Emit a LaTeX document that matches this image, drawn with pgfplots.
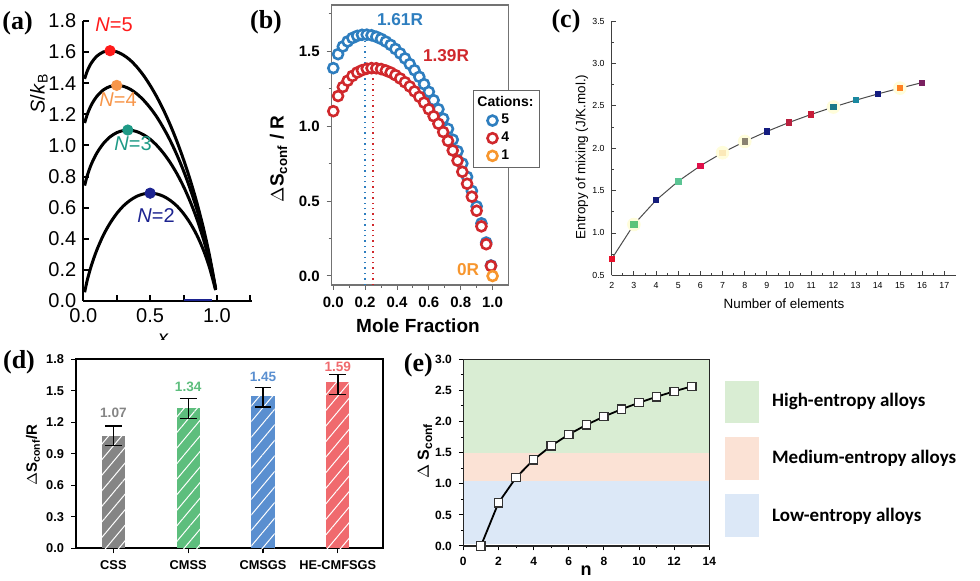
\documentclass[border=0pt]{standalone}
\usepackage{pgfplots}
\pgfplotsset{compat=1.18, /pgf/number format/assume math mode=true}
\usepackage{fontspec}
\setmainfont{Liberation Sans}
\newfontfamily\timesb{Liberation Serif}
\newfontfamily\calib{Carlito}
\usetikzlibrary{patterns.meta}
\newcommand{\fs}[1]{\fontsize{#1}{#1}\selectfont}
\definecolor{nAv}{HTML}{FF1A1A}
\definecolor{nAiv}{HTML}{F7964A}
\definecolor{nAiii}{HTML}{1E9A86}
\definecolor{nAii}{HTML}{1C2390}
\definecolor{bB}{HTML}{2E7EBF}
\definecolor{bR}{HTML}{D0282C}
\definecolor{bO}{HTML}{F7962E}
\definecolor{dG}{HTML}{858585}
\definecolor{dGr}{HTML}{5DBE7D}
\definecolor{dB}{HTML}{5A8FD0}
\definecolor{dR}{HTML}{F06A6E}
\definecolor{eG}{HTML}{D9EDD3}
\definecolor{eO}{HTML}{FBE2D5}
\definecolor{eB}{HTML}{DCE8F7}
\definecolor{cA}{HTML}{E8102A}
\definecolor{cB}{HTML}{5EC47A}
\definecolor{cC}{HTML}{141C7A}
\definecolor{cD}{HTML}{5CC494}
\definecolor{cE}{HTML}{E0104A}
\definecolor{cF}{HTML}{FBE9B8}
\definecolor{cG}{HTML}{8A8270}
\definecolor{cH}{HTML}{141C80}
\definecolor{cI}{HTML}{B8203E}
\definecolor{cJ}{HTML}{C81C38}
\definecolor{cK}{HTML}{1A7888}
\definecolor{cL}{HTML}{1A88A0}
\definecolor{cM}{HTML}{141C80}
\definecolor{cN}{HTML}{FF8020}
\definecolor{cO}{HTML}{7A2060}
\begin{document}
\begin{tikzpicture}
\useasboundingbox (0pt,0pt) rectangle (490pt,290.5pt);

% ---------------- (a) ----------------
\begin{axis}[at={(41.65pt,140pt)}, anchor=south west, scale only axis,
  width=84.2pt, height=140pt,
  xmin=0, xmax=1.26, ymin=0, ymax=1.8,
  axis x line*=bottom, axis y line*=left,
  axis line style={-, line width=1.1pt, black},
  xtick={0,0.25,0.5,0.75,1,1.25}, xticklabels={0.0,,0.5,,1.0,},
  ytick={0,0.2,0.4,0.6,0.8,1.0,1.2,1.4,1.6,1.8},
  yticklabel style={/pgf/number format/.cd, fixed, fixed zerofill, precision=1},
  tick align=inside, major tick length=3pt, tick style={line width=1pt, black},
  tick label style={font=\fs{10}}, clip=false]
\addplot[nAii, line width=0.8pt, forget plot] coordinates {(0.75,0.006) (0.96,0.006)};
\addplot[black, line width=1.5pt, smooth] coordinates {(0.01,0.056)(0.03,0.135)(0.06,0.227)(0.1,0.325)(0.15,0.423)(0.2,0.500)(0.25,0.562)(0.3,0.611)(0.35,0.647)(0.4,0.673)(0.45,0.688)(0.5,0.693)(0.55,0.688)(0.6,0.673)(0.65,0.647)(0.7,0.611)(0.75,0.562)(0.8,0.500)(0.85,0.423)(0.9,0.325)(0.94,0.227)(0.97,0.135)(0.99,0.070)};
\addplot[black, line width=1.5pt, smooth] coordinates {(0.01,0.742)(0.03,0.807)(0.06,0.879)(0.1,0.949)(0.15,1.012)(0.2,1.055)(0.25,1.082)(0.3,1.096)(0.35,1.098)(0.4,1.089)(0.45,1.069)(0.5,1.040)(0.55,1.000)(0.6,0.950)(0.65,0.890)(0.7,0.819)(0.75,0.736)(0.8,0.639)(0.85,0.527)(0.9,0.394)(0.94,0.269)(0.97,0.156)(0.99,0.075)};
\addplot[black, line width=1.5pt, smooth] coordinates {(0.01,1.144)(0.03,1.200)(0.06,1.260)(0.1,1.314)(0.15,1.357)(0.2,1.379)(0.25,1.386)(0.3,1.380)(0.35,1.362)(0.4,1.332)(0.45,1.292)(0.5,1.242)(0.55,1.183)(0.6,1.112)(0.65,1.032)(0.7,0.940)(0.75,0.837)(0.8,0.720)(0.85,0.588)(0.9,0.435)(0.94,0.293)(0.97,0.168)(0.99,0.078)};
\addplot[black, line width=1.5pt, smooth] coordinates {(0.01,1.428)(0.03,1.479)(0.06,1.530)(0.1,1.573)(0.15,1.601)(0.2,1.609)(0.25,1.602)(0.3,1.581)(0.35,1.549)(0.4,1.505)(0.45,1.451)(0.5,1.386)(0.55,1.312)(0.6,1.228)(0.65,1.133)(0.7,1.027)(0.75,0.909)(0.8,0.778)(0.85,0.631)(0.9,0.464)(0.94,0.310)(0.97,0.176)(0.99,0.080)};
\addplot[only marks, mark=*, mark size=2.6pt, color=nAv] coordinates {(0.2,1.609)};
\addplot[only marks, mark=*, mark size=2.6pt, color=nAiv] coordinates {(0.25,1.386)};
\addplot[only marks, mark=*, mark size=2.6pt, color=nAiii] coordinates {(0.333,1.099)};
\addplot[only marks, mark=*, mark size=2.6pt, color=nAii] coordinates {(0.5,0.693)};
\end{axis}
\node[inner sep=0, font=\fs{10}, text=nAv] at (57pt,278pt) {\textit{N}=5};
\node[inner sep=0, font=\fs{10}, text=nAiv] at (59pt,240.5pt) {\textit{N}=4};
\node[inner sep=0, font=\fs{10}, text=nAiii] at (66.5pt,218.5pt) {\textit{N}=3};
\node[inner sep=0, font=\fs{10}, text=nAii] at (78pt,182.5pt) {\textit{N}=2};
\node[inner sep=0, font=\fs{10}, rotate=90, anchor=base] at (22.3pt,243.75pt) {\textit{S}/\textit{k}\textsubscript{B}};
\begin{scope}
\clip (60pt,120.5pt) rectangle (110pt,135pt);
\node[inner sep=0, font=\itshape\fs{10}] at (81.5pt,121pt) {x};
\end{scope}

% ---------------- (b) ----------------
\begin{axis}[at={(165.85pt,148pt)}, anchor=south west, scale only axis,
  width=88.4pt, height=140pt,
  xmin=-0.01, xmax=1.10, ymin=-0.06, ymax=1.807,
  axis line style={black!55, line width=0.6pt},
  xtick={0,0.2,0.4,0.6,0.8,1.0}, minor xtick={0.1,0.3,0.5,0.7,0.9},
  ytick={0,0.5,1.0,1.5}, minor ytick={0.25,0.75,1.25,1.75},
  xtick pos=bottom, ytick pos=left, tick align=outside,
  major tick length=2.5pt, minor tick length=1.5pt, tick style={black!60, line width=0.5pt},
  tick label style={font=\bfseries\fs{7.5}, /pgf/number format/.cd, fixed, fixed zerofill, precision=1},
  legend style={at={(axis cs:0.879,1.24)}, anchor=north west, draw=black!60, line width=0.5pt,
    font=\bfseries\fs{7}, inner sep=0.8pt, row sep=-1.5pt, cells={anchor=west}},
  clip=false]
\addlegendimage{empty legend}
\addlegendentry{\hspace{-12pt}Cations:}
\addplot[bB, dotted, line width=0.7pt, forget plot] coordinates {(0.2,-0.06) (0.2,1.609)};
\addplot[bR, dotted, line width=0.7pt, forget plot] coordinates {(0.25,-0.06) (0.25,1.386)};
\addplot[only marks, mark=*, mark size=2.5pt, mark options={fill=white, draw=bB, line width=1.3pt}] coordinates {(0,1.386)(0.03,1.479)(0.06,1.530)(0.09,1.564)(0.12,1.587)(0.15,1.601)(0.18,1.608)(0.21,1.609)(0.24,1.605)(0.27,1.595)(0.30,1.581)(0.33,1.563)(0.36,1.541)(0.39,1.514)(0.42,1.484)(0.45,1.451)(0.48,1.413)(0.51,1.372)(0.54,1.328)(0.57,1.279)(0.60,1.228)(0.63,1.172)(0.66,1.112)(0.69,1.049)(0.72,0.981)(0.75,0.909)(0.78,0.832)(0.81,0.750)(0.84,0.661)(0.87,0.567)(0.90,0.464)(0.93,0.351)(0.96,0.223)(0.99,0.070)};
\addlegendentry{5}
\addplot[only marks, mark=*, mark size=2.5pt, mark options={fill=white, draw=bR, line width=1.3pt}] coordinates {(0,1.099)(0.03,1.200)(0.06,1.260)(0.09,1.302)(0.12,1.334)(0.15,1.357)(0.18,1.372)(0.21,1.382)(0.24,1.386)(0.27,1.385)(0.30,1.380)(0.33,1.370)(0.36,1.357)(0.39,1.339)(0.42,1.317)(0.45,1.292)(0.48,1.264)(0.51,1.231)(0.54,1.195)(0.57,1.156)(0.60,1.112)(0.63,1.065)(0.66,1.015)(0.69,0.960)(0.72,0.901)(0.75,0.837)(0.78,0.769)(0.81,0.695)(0.84,0.615)(0.87,0.529)(0.90,0.435)(0.93,0.331)(0.96,0.212)(0.99,0.067)};
\addlegendentry{4}
\addplot[only marks, mark=*, mark size=2.5pt, mark options={fill=white, draw=bO, line width=1.3pt}] coordinates {(1.0,0)};
\addlegendentry{1}
\end{axis}
\node[inner sep=0, font=\bfseries\fs{8.6}, text=bB] at (200pt,280.5pt) {1.61R};
\node[inner sep=0, font=\bfseries\fs{8.6}, text=bR] at (223pt,262.5pt) {1.39R};
\node[inner sep=0, font=\bfseries\fs{8.6}, text=bO] at (234pt,155.5pt) {0R};
\node[inner sep=0, font=\bfseries\fs{9.5}, rotate=90] at (139.25pt,211pt) {$\Delta$S\textsubscript{conf} / R};
\node[inner sep=0, font=\bfseries\fs{9.5}] at (209pt,127.5pt) {Mole Fraction};

% ---------------- (c) ----------------
\begin{axis}[at={(305.85pt,152.85pt)}, anchor=south west, scale only axis,
  width=172.15pt, height=127.15pt,
  xmin=2, xmax=17.53, ymin=0.5, ymax=3.5,
  axis x line*=bottom, axis y line*=left,
  axis line style={-, line width=0.5pt, black!75},
  xtick={2,3,...,17}, minor x tick num=1,
  ytick={0.5,1.0,1.5,2.0,2.5,3.0,3.5}, minor y tick num=1,
  tick align=inside, major tick length=2pt, minor tick length=1.2pt,
  tick style={black!75, line width=0.4pt},
  tick label style={font=\fs{4.4}},
  yticklabel style={/pgf/number format/.cd, fixed, fixed zerofill, precision=1},
  clip=false]
\addplot[only marks, mark=*, mark size=3.2pt, color=yellow!14, forget plot] coordinates {(3,1.099)(7,1.946)(8,2.079)(12,2.485)(15,2.708)};
\addplot[black!70, line width=0.5pt] coordinates {(2,0.693)(3,1.099)(4,1.386)(5,1.609)(6,1.792)(7,1.946)(8,2.079)(9,2.197)(10,2.303)(11,2.398)(12,2.485)(13,2.565)(14,2.639)(15,2.708)(16,2.773)};
\addplot[only marks, mark=square*, mark size=1.3pt, color=cA] coordinates {(2,0.693)};
\addplot[only marks, mark=square*, mark size=1.6pt, color=cB] coordinates {(3,1.099)};
\addplot[only marks, mark=square*, mark size=1.3pt, color=cC] coordinates {(4,1.386)};
\addplot[only marks, mark=square*, mark size=1.4pt, color=cD] coordinates {(5,1.609)};
\addplot[only marks, mark=square*, mark size=1.3pt, color=cE] coordinates {(6,1.792)};
\addplot[only marks, mark=square*, mark size=1.4pt, color=cF] coordinates {(7,1.946)};
\addplot[only marks, mark=square*, mark size=1.3pt, color=cG] coordinates {(8,2.079)};
\addplot[only marks, mark=square*, mark size=1.3pt, color=cH] coordinates {(9,2.197)};
\addplot[only marks, mark=square*, mark size=1.3pt, color=cI] coordinates {(10,2.303)};
\addplot[only marks, mark=square*, mark size=1.3pt, color=cJ] coordinates {(11,2.398)};
\addplot[only marks, mark=square*, mark size=1.4pt, color=cK] coordinates {(12,2.485)};
\addplot[only marks, mark=square*, mark size=1.3pt, color=cL] coordinates {(13,2.565)};
\addplot[only marks, mark=square*, mark size=1.3pt, color=cM] coordinates {(14,2.639)};
\addplot[only marks, mark=square*, mark size=1.3pt, color=cN] coordinates {(15,2.708)};
\addplot[only marks, mark=square*, mark size=1.3pt, color=cO] coordinates {(16,2.773)};
\end{axis}
\node[inner sep=0, font=\fs{6.7}, rotate=90] at (291pt,212pt) {Entropy of mixing (J/K.mol.)};
\node[inner sep=0, font=\fs{6.7}] at (392pt,138.5pt) {Number of elements};

% ---------------- (d) ----------------
\begin{axis}[at={(38pt,16.35pt)}, anchor=south west, scale only axis,
  width=153.35pt, height=94.5pt,
  xmin=-0.5, xmax=3.6, ymin=0, ymax=1.8,
  bar width=11.65pt,
  axis line style={black, line width=0.8pt},
  xtick={0,1,2,3}, xticklabels={CSS,CMSS,CMSGS,HE-CMFSGS},
  ytick={0,0.3,0.6,0.9,1.2,1.5,1.8},
  xtick pos=bottom, ytick pos=left, tick align=outside,
  major tick length=2.5pt, tick style={black, line width=0.6pt},
  tick label style={font=\bfseries\fs{6.4}},
  yticklabel style={/pgf/number format/.cd, fixed, fixed zerofill, precision=1},
  clip=false]
\addplot[ybar, bar shift=0pt, fill=dG, draw=none, postaction={pattern={Lines[angle=50,distance=5pt,line width=0.5pt]}, pattern color=white}] coordinates {(0,1.07)};
\addplot[ybar, bar shift=0pt, fill=dGr, draw=none, postaction={pattern={Lines[angle=50,distance=5pt,line width=0.5pt]}, pattern color=white}] coordinates {(1,1.34)};
\addplot[ybar, bar shift=0pt, fill=dB, draw=none, postaction={pattern={Lines[angle=50,distance=5pt,line width=0.5pt]}, pattern color=white}] coordinates {(2,1.45)};
\addplot[ybar, bar shift=0pt, fill=dR, draw=none, postaction={pattern={Lines[angle=50,distance=5pt,line width=0.5pt]}, pattern color=white}] coordinates {(3,1.585)};
\addplot[draw=none, mark=none, forget plot,
  error bars/.cd, y dir=both, y explicit,
  error bar style={line width=0.7pt, black},
  error mark options={rotate=90, mark size=4.2pt, line width=0.7pt, black}]
  coordinates {(0,1.07) += (0,0.095) -= (0,0.092)
               (1,1.34) += (0,0.089) -= (0,0.102)
               (2,1.45) += (0,0.083) -= (0,0.104)
               (3,1.585) += (0,0.069) -= (0,0.118)};
\node[inner sep=0, font=\bfseries\fs{6.8}, text=dG] at (axis cs:0,1.286) {1.07};
\node[inner sep=0, font=\bfseries\fs{6.8}, text=dGr] at (axis cs:1,1.533) {1.34};
\node[inner sep=0, font=\bfseries\fs{6.8}, text=dB] at (axis cs:2,1.634) {1.45};
\node[inner sep=0, font=\bfseries\fs{6.8}, text=dR] at (axis cs:3,1.73) {1.59};
\end{axis}
\node[inner sep=0, font=\bfseries\fs{7.5}, rotate=90] at (16.5pt,63pt) {$\Delta$S\textsubscript{conf}/R};

% ---------------- (e) ----------------
\begin{axis}[at={(231.65pt,17.5pt)}, anchor=south west, scale only axis,
  width=123pt, height=93.35pt,
  xmin=0, xmax=14, ymin=0, ymax=3, clip=false, axis on top,
  axis line style={black!85, line width=0.7pt},
  xtick={0,2,4,6,8,10,12,14}, minor xtick={1,3,5,7,9,11,13},
  ytick={0,0.5,1.0,1.5,2.0,2.5,3.0}, minor ytick={0.25,0.75,1.25,1.75,2.25,2.75},
  xtick pos=bottom, ytick pos=left, tick align=outside,
  major tick length=2.2pt, minor tick length=1.2pt, tick style={black, line width=0.5pt},
  tick label style={font=\bfseries\fs{6}},
  yticklabel style={/pgf/number format/.cd, fixed, fixed zerofill, precision=1}]
\addplot[draw=none, fill=eG] coordinates {(0,1.5) (14,1.5) (14,3) (0,3)} -- cycle;
\addplot[draw=none, fill=eO] coordinates {(0,1.05) (14,1.05) (14,1.5) (0,1.5)} -- cycle;
\addplot[draw=none, fill=eB] coordinates {(0,0.03) (14,0.03) (14,1.05) (0,1.05)} -- cycle;
\addplot[draw=none, fill=eG] coordinates {(14.89,1.977) (16.83,1.977) (16.83,2.651) (14.89,2.651)} -- cycle;
\addplot[draw=none, fill=eO] coordinates {(14.89,1.061) (16.83,1.061) (16.83,1.752) (14.89,1.752)} -- cycle;
\addplot[draw=none, fill=eB] coordinates {(14.89,0.145) (16.83,0.145) (16.83,0.836) (14.89,0.836)} -- cycle;
\addplot[black, line width=0.9pt, mark=square*, mark size=2.1pt,
  mark options={fill=white, draw=black!80, line width=0.6pt}]
  coordinates {(1,0)(2,0.693)(3,1.099)(4,1.386)(5,1.609)(6,1.792)(7,1.946)(8,2.079)(9,2.197)(10,2.303)(11,2.398)(12,2.485)(13,2.565)};
\end{axis}
\node[inner sep=0, font=\bfseries\fs{8}, rotate=90] at (212.5pt,65pt) {$\Delta$ S\textsubscript{conf}};
\node[inner sep=0, font=\bfseries\fs{9}] at (293pt,5pt) {n};
\node[inner sep=0, anchor=west, font=\calib\bfseries\fs{9.5}] at (385.85pt,89.65pt) {High-entropy alloys};
\node[inner sep=0, anchor=west, font=\calib\bfseries\fs{9.5}] at (385.85pt,61.35pt) {Medium-entropy alloys};
\node[inner sep=0, anchor=west, font=\calib\bfseries\fs{9.5}] at (385.85pt,32.15pt) {Low-entropy alloys};

% panel letters
\node[inner sep=0, font=\timesb\bfseries\fs{13}] at (8.75pt,279pt) {(a)};
\node[inner sep=0, font=\timesb\bfseries\fs{13}] at (133pt,279.5pt) {(b)};
\node[inner sep=0, font=\timesb\bfseries\fs{13}] at (283pt,280pt) {(c)};
\node[inner sep=0, font=\timesb\bfseries\fs{13}] at (9.5pt,109.35pt) {(d)};
\node[inner sep=0, font=\timesb\bfseries\fs{13}] at (209.2pt,107.65pt) {(e)};
\end{tikzpicture}
\end{document}
